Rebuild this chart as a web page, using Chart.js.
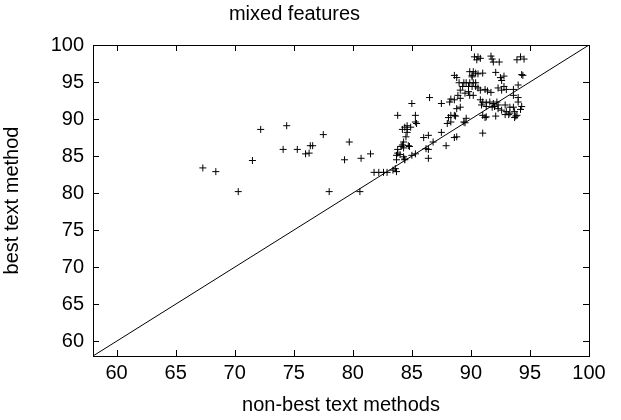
<!DOCTYPE html>
<html>
<head>
<meta charset="utf-8">
<script src="https://cdn.jsdelivr.net/npm/chart.js@4/dist/chart.umd.min.js"></script>
<style>
  html, body { margin: 0; padding: 0; background: #fff; }
  canvas { display: block; }
</style>
</head>
<body>
<canvas id="scatterChart" width="621" height="420"></canvas>
<script>
// scores: non-best text methods (x) vs best text method (y)
const nonBest = [
    67.3, 68.4, 70.3, 71.5, 72.2, 74.1, 74.4, 75.3, 76.0, 76.3, 76.4, 76.6, 77.5, 78.0, 79.3, 79.7,
    80.6, 80.7, 81.5, 81.8, 82.2, 82.6, 82.9,
    83.6, 83.4, 83.7, 83.7, 83.8, 83.7, 84.0, 84.3, 84.4, 84.4, 83.8, 84.1, 84.3, 84.2, 84.3, 84.8,
    84.7, 84.5, 84.6, 84.2, 84.4, 84.6, 84.9, 84.6, 83.8, 85.3, 85.3, 85.4, 85.0, 85.0, 85.3, 86.5,
    86.0, 86.4, 86.2, 86.4, 86.4, 86.8, 87.5, 87.9, 87.5, 88.2, 88.3, 88.6, 88.3, 88.1, 88.3, 88.0,
    88.7, 88.8, 88.8, 89.0, 88.6, 89.1, 88.6, 88.6,
    90.3, 90.6, 90.8, 90.5, 91.7, 91.8, 91.9, 92.4, 93.9, 94.2, 94.5, 94.4, 89.9, 90.2, 90.4, 90.6,
    90.1, 90.1, 91.0, 92.1, 92.5, 92.8, 92.6, 89.4, 89.6, 89.9, 90.2, 90.4, 89.3, 89.8, 90.1, 90.4,
    90.6, 90.8, 91.2, 91.4, 91.7, 92.3, 92.6, 92.8, 93.0, 93.6, 94.0, 93.6, 89.1, 88.9, 89.5, 89.8,
    89.9, 90.2, 90.8, 91.0, 91.3, 91.6, 91.9, 92.2, 90.9, 91.3, 91.8, 92.3, 92.9, 93.3, 93.6, 94.0,
    94.2, 88.8, 89.1, 92.0, 92.3, 92.6, 93.0, 93.3, 93.7, 94.3, 91.0, 91.3, 91.2, 92.1, 92.9, 93.2,
    93.7, 93.8, 91.0, 89.6, 89.4, 89.5, 94.3, 94.0, 93.9
];
const best = [
    83.4, 82.9, 80.2, 84.4, 88.6, 85.9, 89.1, 85.9, 85.3, 85.4, 86.4, 86.4, 87.9, 80.2, 84.5, 86.9,
    80.2, 84.7, 85.3, 82.8, 82.8, 82.8, 82.8,
    83.3, 83.1, 82.9, 84.5, 85.4, 85.1, 85.2, 84.9, 84.6, 84.5, 85.9, 86.3, 86.1, 86.5, 86.9, 86.3,
    86.4, 87.6, 88.2, 88.6, 88.9, 89.1, 88.9, 88.6, 90.5, 90.5, 89.6, 89.4, 92.1, 85.1, 85.3, 92.9,
    87.5, 87.8, 86.0, 84.7, 85.9, 86.9, 88.2, 86.4, 92.1, 92.3, 92.7, 92.6, 89.6, 90.2, 90.5, 89.4,
    90.4, 87.6, 95.6, 94.9, 95.9, 92.8, 90.5, 87.5,
    98.4, 98.4, 98.2, 98.0, 98.5, 98.1, 97.7, 97.7, 98.0, 98.4, 98.1, 95.9, 96.4, 96.4, 96.2, 96.1,
    95.9, 95.7, 96.2, 96.3, 95.6, 95.8, 95.2, 94.9, 94.9, 94.9, 94.9, 94.9, 94.4, 94.4, 94.4, 94.4,
    94.2, 93.9, 94.0, 93.8, 93.6, 94.2, 93.9, 94.4, 94.0, 94.0, 94.6, 93.2, 93.9, 93.2, 93.5, 93.7,
    93.2, 93.2, 92.6, 92.3, 92.2, 92.3, 92.1, 92.3, 91.9, 91.7, 91.6, 91.9, 91.9, 91.6, 91.6, 92.3,
    91.3, 91.4, 91.6, 91.7, 91.4, 91.2, 91.0, 90.8, 91.0, 91.7, 90.5, 90.3, 90.2, 90.4, 90.6, 90.6,
    90.2, 90.4, 88.1, 90.1, 89.6, 89.5, 96.0, 92.9, 90.5
];
const diagonal = [58, 100];
const axisTicks = [60, 65, 70, 75, 80, 85, 90, 95, 100];

const points = nonBest.map((v, i) => ({ x: v, y: best[i] }));
const fontFamily = '"Liberation Sans", Arial, sans-serif';

// gnuplot style frame with inward ticks on all four sides
const frameTicks = {
    id: 'frameTicks',
    afterDatasetsDraw(chart) {
        const { ctx, chartArea: a, scales: { x, y } } = chart;
        const len = 6;
        ctx.save();
        ctx.strokeStyle = '#000';
        ctx.lineWidth = 1;
        ctx.beginPath();
        x.ticks.forEach(t => {
            const px = Math.round(x.getPixelForValue(t.value)) + 0.5;
            ctx.moveTo(px, a.bottom); ctx.lineTo(px, a.bottom - len);
            ctx.moveTo(px, a.top); ctx.lineTo(px, a.top + len);
        });
        y.ticks.forEach(t => {
            const py = Math.round(y.getPixelForValue(t.value)) + 0.5;
            ctx.moveTo(a.left, py); ctx.lineTo(a.left + len, py);
            ctx.moveTo(a.right, py); ctx.lineTo(a.right - len, py);
        });
        ctx.stroke();
        ctx.strokeRect(Math.round(a.left) + 0.5, Math.round(a.top) + 0.5,
            Math.round(a.right - a.left), Math.round(a.bottom - a.top));
        ctx.restore();
    }
};

new Chart(document.getElementById('scatterChart'), {
    type: 'scatter',
    data: {
        datasets: [
            {
                data: points,
                pointStyle: 'cross',
                pointRadius: 3.5,
                pointBorderWidth: 1,
                borderColor: '#000',
                backgroundColor: '#000'
            },
            {
                type: 'line',
                data: diagonal.map(v => ({ x: v, y: v })),
                borderColor: '#000',
                borderWidth: 1,
                pointRadius: 0,
                fill: false
            }
        ]
    },
    options: {
        responsive: false,
        animation: false,
        layout: { padding: { top: 0, right: 32, bottom: 0, left: 0 } },
        plugins: {
            legend: { display: false },
            tooltip: { enabled: false },
            title: {
                display: true,
                text: 'mixed features',
                color: '#000',
                font: { family: fontFamily, size: 20, weight: 'normal' },
                padding: { top: 2, bottom: 19 }
            }
        },
        scales: {
            x: {
                type: 'linear',
                min: 58, max: 100,
                afterBuildTicks: s => { s.ticks = axisTicks.map(v => ({ value: v })); },
                afterFit: s => { s.height = 64; },
                grid: { display: false, drawTicks: false },
                border: { display: false },
                ticks: { color: '#000', padding: 5, font: { family: fontFamily, size: 20 } },
                title: {
                    display: true,
                    text: 'non-best text methods',
                    color: '#000',
                    font: { family: fontFamily, size: 20 },
                    padding: { top: 0, bottom: 3 }
                }
            },
            y: {
                type: 'linear',
                min: 58, max: 100,
                afterBuildTicks: s => { s.ticks = axisTicks.map(v => ({ value: v })); },
                afterFit: s => { s.width = 93; },
                grid: { display: false, drawTicks: false },
                border: { display: false },
                ticks: { color: '#000', padding: 9, font: { family: fontFamily, size: 20 } },
                title: {
                    display: true,
                    text: 'best text method',
                    color: '#000',
                    font: { family: fontFamily, size: 20 },
                    padding: { top: 0, bottom: 0 }
                }
            }
        }
    },
    plugins: [frameTicks]
});
</script>
</body>
</html>
